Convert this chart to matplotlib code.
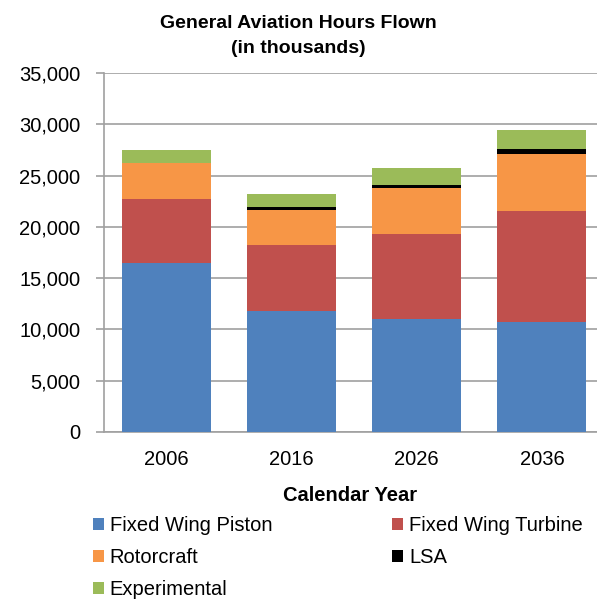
import matplotlib
matplotlib.use("Agg")
import matplotlib.pyplot as plt
import numpy as np

plt.rcParams['font.family'] = ['Liberation Sans', 'DejaVu Sans']

years = ["2006", "2016", "2026", "2036"]
piston = [16500, 11800, 11000, 10700]
turbine = [6200, 6450, 8300, 10850]
rotorcraft = [3500, 3400, 4450, 5550]
lsa = [60, 250, 350, 500]
experimental = [1240, 1300, 1600, 1850]

series = [
    ("Fixed Wing Piston", piston, "#4F81BD"),
    ("Fixed Wing Turbine", turbine, "#C0504D"),
    ("Rotorcraft", rotorcraft, "#F79646"),
    ("LSA", lsa, "#000000"),
    ("Experimental", experimental, "#9BBB59"),
]

fig = plt.figure(figsize=(5.97, 6.04), dpi=100)
ax = fig.add_axes([0.174, 0.285, 0.826, 0.594])

x = np.arange(len(years))
bottom = np.zeros(len(years))
handles = {}
for name, vals, col in series:
    b = ax.bar(x, vals, 0.71, bottom=bottom, color=col, label=name, zorder=3)
    handles[name] = b
    bottom += np.array(vals)

ax.set_ylim(0, 35000)
ax.set_xlim(-0.5, 3.44)
ax.set_yticks(np.arange(0, 35001, 5000))
ax.set_yticklabels([f"{v:,}" for v in range(0, 35001, 5000)], fontsize=14.5)
ax.set_xticks(x)
ax.set_xticklabels(years, fontsize=14.5)
ax.tick_params(axis='y', length=6, width=1.2, color='#A0A0A0', pad=11)
ax.tick_params(axis='x', length=0, pad=13)
ax.grid(axis='y', color='#A0A0A0', linewidth=1.2, zorder=0)
for s in ['top', 'right']:
    ax.spines[s].set_visible(False)
for s in ['left', 'bottom']:
    ax.spines[s].set_color('#A0A0A0')
    ax.spines[s].set_linewidth(1.2)

ax.set_xlabel("Calendar Year", fontsize=14.5, fontweight='bold', labelpad=12)
fig.text(0.5, 1 - 28 / 604, "General Aviation Hours Flown", ha='center', va='baseline',
         fontsize=14, fontweight='bold')
fig.text(0.5, 1 - 53 / 604, "(in thousands)", ha='center', va='baseline',
         fontsize=14, fontweight='bold')

order = ["Fixed Wing Piston", "Rotorcraft", "Experimental", "Fixed Wing Turbine", "LSA"]
leg = fig.legend([handles[n] for n in order], order, ncol=2, loc='upper left',
                 bbox_to_anchor=(0.155, 0.146), frameon=False, fontsize=14.5,
                 handlelength=0.55, handleheight=0.55, handletextpad=0.3,
                 columnspacing=5.95, labelspacing=0.66, borderaxespad=0, borderpad=0)

fig.savefig("out.png", dpi=100)
